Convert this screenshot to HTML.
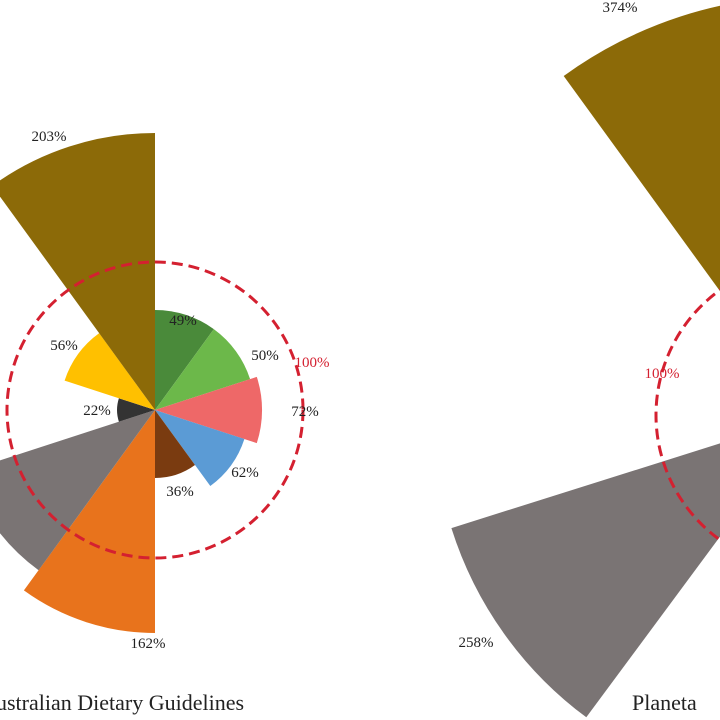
<!DOCTYPE html>
<html><head><meta charset="utf-8"><style>
html,body{margin:0;padding:0;background:#fff;width:720px;height:720px;overflow:hidden}
text{font-family:"Liberation Serif",serif}
</style></head><body>
<svg id="s" width="720" height="720" xmlns="http://www.w3.org/2000/svg">
<g id="g"></g>
<circle cx="155" cy="410" r="148" fill="none" stroke="#d42030" stroke-width="3" stroke-dasharray="11,6"/>
<circle cx="810" cy="415" r="154" fill="none" stroke="#d42030" stroke-width="3" stroke-dasharray="11,6"/>
<g font-size="15" fill="#222" text-anchor="middle">
<text x="183" y="325">49%</text>
<text x="265" y="360">50%</text>
<text x="305" y="416">72%</text>
<text x="245" y="477">62%</text>
<text x="180" y="496">36%</text>
<text x="148" y="648">162%</text>
<text x="97" y="415">22%</text>
<text x="64" y="350">56%</text>
<text x="49" y="141">203%</text>
<text x="620" y="12">374%</text>
<text x="476" y="647">258%</text>
</g>
<text x="312" y="367" font-size="15" fill="#d42030" text-anchor="middle">100%</text>
<text x="662" y="378" font-size="15" fill="#d42030" text-anchor="middle">100%</text>
<text x="-4" y="710" font-size="22" fill="#222">ustralian Dietary Guidelines</text>
<text x="632" y="710" font-size="22" fill="#222">Planeta</text>
</svg>
<script>
var g=document.getElementById('g');
function sec(cx,cy,r,a0,a1,c){
 function p(a){a=a*Math.PI/180;return (cx+r*Math.sin(a)).toFixed(1)+','+(cy-r*Math.cos(a)).toFixed(1);}
 var e=document.createElementNS('http://www.w3.org/2000/svg','path');
 e.setAttribute('d','M'+cx+','+cy+' L'+p(a0)+' A'+r+','+r+' 0 0 1 '+p(a1)+' Z');
 e.setAttribute('fill',c);g.appendChild(e);
}
var L=[[100,'#4a8a3a'],[100,'#6cb84a'],[107,'#ee6868'],[94,'#5b9bd5'],[68,'#7a3b10'],[223,'#e8731c'],[198,'#7a7474'],[38,'#333333'],[95,'#ffc000'],[277,'#8c6a08']];
L.forEach(function(d,i){sec(155,410,d[0],i*36,i*36+36,d[1]);});
sec(810,415,419,324,360,'#8c6a08');
sec(810,415,376,216.5,252.5,'#7a7474');
</script>
</body></html>
